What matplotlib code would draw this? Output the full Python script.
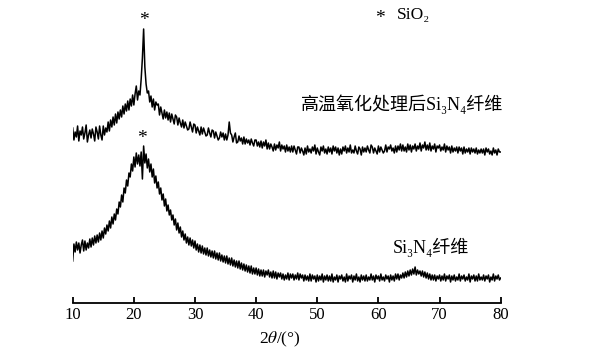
import matplotlib
matplotlib.use("Agg")
import matplotlib.pyplot as plt
import numpy as np

plt.rcParams['font.family'] = ['Liberation Serif', 'DejaVu Serif', 'Noto Sans CJK SC']
plt.rcParams['mathtext.fontset'] = 'stix'

# Intensitaet (a.u.) nach Hochtemperatur-Oxidation, 0.2-Grad-Schritte ab 10 Grad
oxidized = [
    175, 163, 171, 166, 177,   # 10
    162, 172, 168, 176, 164,   # 11
    170, 178, 161, 168, 173,   # 12
    165, 174, 169, 162, 176,   # 13
    171, 164, 177, 168, 163,   # 14
    177, 168, 175, 171, 181,   # 15
    172, 183, 176, 186, 178,   # 16
    189, 180, 191, 184, 193,   # 17
    186, 197, 189, 199, 192,   # 18
    202, 193, 204, 197, 208,   # 19
    198, 209, 217, 203, 212,   # 20
    208, 224, 245, 274, 236,   # 21
    219, 210, 212, 201, 207,   # 22
    196, 204, 193, 201, 198,   # 23
    199, 188, 196, 190, 184,   # 24
    193, 185, 191, 183, 190,   # 25
    181, 189, 184, 179, 188,   # 26
    186, 178, 185, 180, 176,   # 27
    183, 175, 181, 177, 173,   # 28
    174, 181, 176, 171, 179,   # 29
    178, 170, 176, 172, 168,   # 30
    176, 169, 175, 171, 167,   # 31
    168, 175, 170, 166, 173,   # 32
    172, 165, 171, 167, 163,   # 33
    165, 171, 166, 170, 163,   # 34
    169, 163, 168, 181, 170,   # 35
    168, 161, 166, 170, 160,   # 36
    161, 167, 162, 165, 159,   # 37
    166, 159, 164, 160, 163,   # 38
    158, 164, 160, 157, 163,   # 39
    163, 157, 161, 156, 162,   # 40
    155, 161, 157, 163, 154,   # 41
    160, 154, 159, 156, 152,   # 42
    159, 153, 158, 155, 161,   # 43
    152, 158, 154, 157, 151,   # 44
    158, 152, 156, 151, 157,   # 45
    151, 157, 153, 149, 156,   # 46
    156, 150, 155, 152, 148,   # 47
    155, 149, 157, 151, 154,   # 48
    150, 156, 152, 158, 149,   # 49
    155, 151, 148, 156, 152,   # 50
    157, 150, 154, 149, 156,   # 51
    151, 155, 149, 157, 152,   # 52
    156, 150, 155, 148, 154,   # 53
    149, 156, 152, 157, 150,   # 54
    155, 151, 158, 150, 153,   # 55
    150, 157, 152, 149, 156,   # 56
    154, 148, 156, 151, 155,   # 57
    151, 157, 153, 150, 158,   # 58
    156, 150, 155, 152, 149,   # 59
    157, 151, 156, 153, 150,   # 60
    152, 158, 151, 156, 154,   # 61
    158, 152, 155, 150, 157,   # 62
    151, 157, 153, 159, 152,   # 63
    158, 152, 156, 151, 159,   # 64
    153, 158, 151, 157, 154,   # 65
    159, 152, 157, 154, 160,   # 66
    152, 158, 155, 161, 153,   # 67
    158, 153, 160, 152, 157,   # 68
    154, 159, 151, 157, 155,   # 69
    158, 152, 156, 153, 159,   # 70
    151, 157, 153, 156, 150,   # 71
    157, 151, 155, 152, 156,   # 72
    150, 156, 152, 155, 149,   # 73
    156, 150, 154, 151, 155,   # 74
    149, 155, 151, 154, 150,   # 75
    155, 149, 153, 150, 154,   # 76
    150, 154, 148, 155, 151,   # 77
    154, 149, 152, 148, 155,   # 78
    150, 153, 148, 154, 151,   # 79
    151,                       # 80
]

# Intensitaet (a.u.) der unbehandelten Si3N4-Faser
fiber = [
    42, 59, 51, 61, 53,        # 10
    60, 50, 58, 63, 52,        # 11
    62, 53, 60, 55, 64,        # 12
    56, 65, 58, 67, 60,        # 13
    68, 61, 70, 63, 72,        # 14
    65, 75, 69, 78, 72,        # 15
    82, 75, 86, 79, 89,        # 16
    83, 94, 89, 101, 96,       # 17
    108, 101, 115, 110, 123,   # 18
    117, 130, 126, 139, 132,   # 19
    146, 136, 150, 139, 148,   # 20
    137, 151, 124, 157, 140,   # 21
    149, 135, 144, 131, 139,   # 22
    126, 134, 120, 127, 115,   # 23
    121, 109, 115, 103, 109,   # 24
    97, 104, 92, 98, 88,       # 25
    93, 83, 88, 78, 84,        # 26
    73, 80, 70, 76, 66,        # 27
    72, 63, 69, 60, 66,        # 28
    58, 65, 57, 63, 55,        # 29
    62, 53, 59, 51, 58,        # 30
    50, 57, 49, 55, 48,        # 31
    55, 47, 53, 46, 52,        # 32
    45, 52, 44, 50, 43,        # 33
    50, 42, 48, 41, 47,        # 34
    40, 47, 39, 45, 38,        # 35
    45, 37, 43, 36, 42,        # 36
    35, 42, 34, 40, 33,        # 37
    39, 32, 38, 31, 37,        # 38
    30, 37, 29, 35, 29,        # 39
    35, 28, 34, 27, 33,        # 40
    27, 33, 26, 32, 28,        # 41
    33, 26, 31, 25, 32,        # 42
    25, 31, 24, 30, 26,        # 43
    30, 24, 29, 23, 28,        # 44
    24, 30, 23, 29, 25,        # 45
    29, 23, 28, 24, 30,        # 46
    23, 29, 25, 28, 22,        # 47
    28, 23, 27, 22, 29,        # 48
    22, 28, 24, 27, 21,        # 49
    28, 22, 27, 23, 29,        # 50
    21, 27, 23, 28, 22,        # 51
    27, 22, 29, 21, 26,        # 52
    23, 28, 21, 27, 24,        # 53
    28, 22, 26, 21, 29,        # 54
    22, 27, 24, 28, 21,        # 55
    27, 23, 29, 22, 26,        # 56
    21, 28, 23, 27, 22,        # 57
    28, 22, 26, 23, 29,        # 58
    23, 27, 21, 28, 24,        # 59
    27, 22, 29, 23, 26,        # 60
    22, 28, 24, 27, 21,        # 61
    28, 23, 27, 22, 29,        # 62
    24, 29, 23, 28, 25,        # 63
    30, 25, 31, 26, 32,        # 64
    27, 33, 28, 34, 29,        # 65
    36, 28, 33, 29, 32,        # 66
    27, 32, 26, 31, 25,        # 67
    30, 24, 29, 23, 28,        # 68
    23, 28, 22, 27, 24,        # 69
    28, 22, 27, 23, 29,        # 70
    22, 27, 24, 28, 21,        # 71
    27, 23, 28, 22, 26,        # 72
    23, 29, 22, 27, 24,        # 73
    28, 22, 26, 23, 29,        # 74
    21, 27, 24, 28, 22,        # 75
    27, 22, 29, 23, 26,        # 76
    23, 28, 22, 27, 24,        # 77
    28, 21, 26, 23, 29,        # 78
    22, 27, 24, 28, 23,        # 79
    25,                        # 80
]

two_theta = 10 + 0.2 * np.arange(len(oxidized))

# SiO2-Reflexe (2theta, Hoehe des Sternchens)
sio2_peaks = [(21.66, 278), (21.3, 160)]

label_oxidized = '高温氧化处理后Si₃N₄纤维'
label_fiber = 'Si₃N₄纤维'
legend_text = 'SiO₂'
xticks = [10, 20, 30, 40, 50, 60, 70, 80]

fig = plt.figure(figsize=(6.05, 3.6), dpi=100)
ax = fig.add_axes([72.7 / 605, 57 / 360, 428 / 605, 303 / 360])

ax.plot(two_theta, oxidized, color='black', lw=1.1)
ax.plot(two_theta, fiber, color='black', lw=1.1)

for px, py in sio2_peaks:
    ax.text(px, py, '*', ha='center', va='baseline', fontsize=14)

ax.text(80.4, 193, label_oxidized, ha='right', va='baseline', fontsize=13, clip_on=False)
ax.text(68.6, 50, label_fiber, ha='center', va='baseline', fontsize=13)
ax.text(60.3, 280, '*', ha='center', va='baseline', fontsize=14)
ax.text(63.0, 284, legend_text, ha='left', va='baseline', fontsize=12.5)

ax.set_xlim(10, 80)
ax.set_ylim(0, 303)
ax.set_xticks(xticks)
ax.set_yticks([])
for s in ['top', 'left', 'right']:
    ax.spines[s].set_visible(False)
ax.spines['bottom'].set_linewidth(1.3)
ax.tick_params(axis='x', direction='in', length=4.5, width=1.3, labelsize=12, pad=3)
ax.set_xlabel(r'2$\theta$/(°)', fontsize=12.5)
ax.xaxis.set_label_coords(0.484, -0.09)

fig.savefig('out.png', dpi=100)
